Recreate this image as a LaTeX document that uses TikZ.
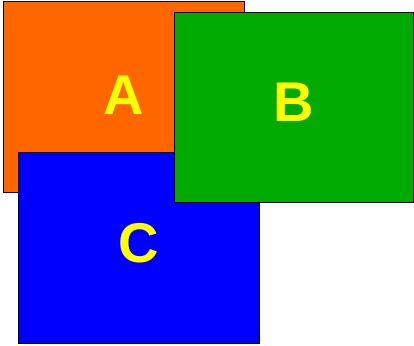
\documentclass[tikz,border=0pt]{standalone}
\usepackage{fontspec}
\setmainfont{Liberation Sans}
\definecolor{boxorange}{RGB}{255,102,0}
\definecolor{boxgreen}{RGB}{0,170,0}
\definecolor{boxblue}{RGB}{0,0,255}
\definecolor{lettery}{RGB}{255,255,0}
\begin{document}
\begin{tikzpicture}[x=1pt, y=-1pt,
  panel/.style={draw=black, inner sep=0pt, anchor=north west, text=lettery,
    font=\fontsize{56}{56}\selectfont\bfseries}]
  \useasboundingbox (0,0) rectangle (414,345);
  \node[panel, fill=boxorange, minimum width=241pt, minimum height=191pt, text depth=3pt] (a) at (3,1) {A};
  \node[panel, fill=boxblue, minimum width=241pt, minimum height=191pt, text depth=10pt] (c) at (18,152) {C};
  \node[panel, fill=boxgreen, minimum width=239pt, minimum height=190pt, text depth=10pt] (b) at (174,12) {B};
\end{tikzpicture}
\end{document}
